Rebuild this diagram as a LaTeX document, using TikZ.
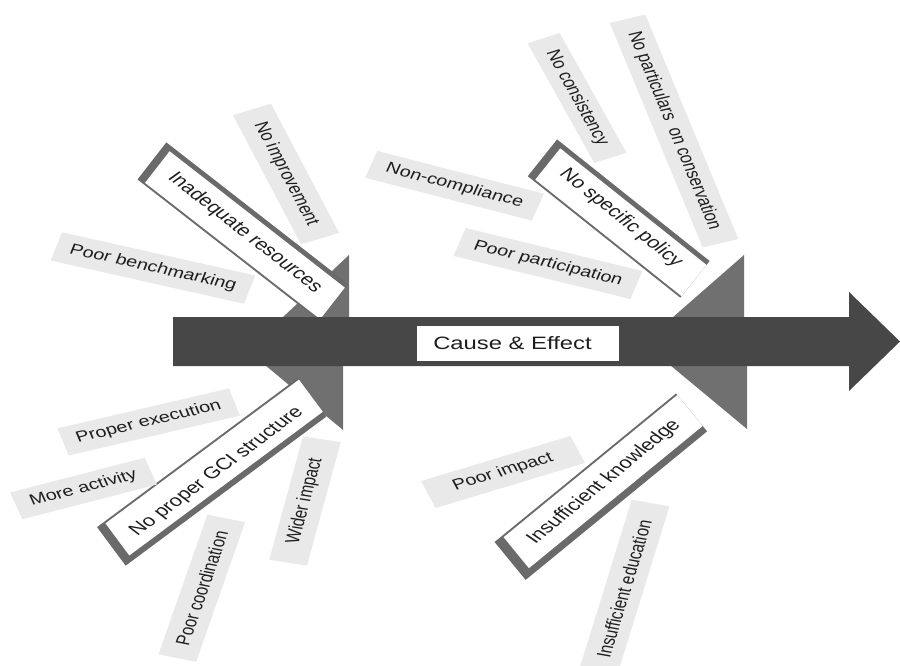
\documentclass[tikz,border=0pt]{standalone}
\usepackage{fontspec}
\setmainfont{Liberation Sans}
\definecolor{spinec}{HTML}{474747}
\definecolor{headc}{HTML}{707070}
\definecolor{bordc}{HTML}{6A6A6A}
\definecolor{lblc}{HTML}{E9E9E9}
\definecolor{txtc}{HTML}{1E1E1E}
\tikzset{
  lbl/.style={fill=lblc, text=txtc, inner sep=0pt, xscale=1.33, font=\fontsize{15}{18}\selectfont},
  brtext/.style={text=txtc, inner sep=0pt, xscale=1.33, font=\fontsize{16.5}{19}\selectfont},
  ttl/.style={fill=white, text=txtc, inner sep=0pt, xscale=1.33, font=\fontsize{17.9}{21}\selectfont},
  headfill/.style={fill=headc},
  spinefill/.style={fill=spinec},
  bordfill/.style={fill=bordc},
  whitefill/.style={fill=white}
}
\begin{document}
\begin{tikzpicture}[x=1pt,y=-1pt]
\useasboundingbox (0,0) rectangle (900,666);
\fill[white] (0,0) rectangle (900,666);

% branch arrow heads
\fill[headfill] (349,255) -- (349,318) -- (282,318) -- cycle;
\fill[headfill] (744,255) -- (744,318) -- (672,318) -- cycle;
\fill[headfill] (265,365) -- (343,365) -- (343,430) -- cycle;
\fill[headfill] (670,365) -- (747,365) -- (747,429) -- cycle;

% branch boxes (top)
\begin{scope}[shift={(241.75,232.75)}, rotate=-37.9]
  \fill[bordfill] (-115,-25) rectangle (115,22);
  \fill[whitefill] (-107,-20) rectangle (115,20);
\end{scope}
\begin{scope}[shift={(617.75,219.75)}, rotate=-38.55]
  \fill[bordfill] (-97.5,-25) rectangle (97.5,22);
  \fill[whitefill] (-89.5,-20) rectangle (97.5,20);
\end{scope}
% branch boxes (bottom)
\begin{scope}[shift={(210.5,470.25)}, rotate=36.6]
  \fill[bordfill] (-125,-22) rectangle (125,26);
  \fill[whitefill] (-116,-20) rectangle (125,20);
\end{scope}
\begin{scope}[shift={(599.25,484.75)}, rotate=39.3]
  \fill[bordfill] (-117.25,-22) rectangle (117.25,27);
  \fill[whitefill] (-107.25,-20) rectangle (117.25,20);
\end{scope}

% spine
\fill[spinefill] (173,317) -- (849,317) -- (849,292) -- (900,341.5) -- (849,391) -- (849,366) -- (173,366) -- cycle;

% branch texts
\node[brtext, rotate=-46.0] (b1) at (245,233) {Inadequate resources};
\node[brtext, rotate=-46.66] (b2) at (621,218) {No specific policy};
\node[brtext, rotate=44.65] (b3) at (217,472) {No proper GCI structure};
\node[brtext, rotate=47.43] (b4) at (604,482) {Insufficient knowledge};

% labels
\node[lbl, rotate=-16.56, minimum width=151.6pt, minimum height=29.5pt] (n1) at (153,268) {Poor benchmarking};
\node[lbl, rotate=-68.38, minimum width=138.9pt, minimum height=30.8pt] (n2) at (286,174) {No improvement};
\node[lbl, rotate=-18.86, minimum width=132.4pt, minimum height=28.3pt] (n3) at (454.5,185.75) {Non-compliance};
\node[lbl, rotate=-17.97, minimum width=139.8pt, minimum height=29.4pt] (n4) at (548,263.5) {Poor participation};
\node[lbl, rotate=-67.24, minimum width=129.7pt, minimum height=26.2pt] (n5) at (577,98) {No consistency};
\node[lbl, rotate=-72.70, minimum width=235.1pt, minimum height=28.0pt] (n6) at (674,131) {No particulars~ on conservation};
\node[lbl, rotate=17.20, minimum width=134.9pt, minimum height=28.4pt] (n7) at (148.75,422) {Proper execution};
\node[lbl, rotate=18.98, minimum width=107pt, minimum height=28.3pt] (n8) at (83.5,488.5) {More activity};
\node[lbl, rotate=75.25, minimum width=144.4pt, minimum height=29.3pt] (n9) at (201.75,588.25) {Poor coordination};
\node[lbl, rotate=78.38, minimum width=126pt, minimum height=29.0pt] (n10) at (305,501) {Wider impact};
\node[lbl, rotate=21.88, minimum width=121pt, minimum height=29.1pt] (n11) at (503,472) {Poor impact};
\node[lbl, rotate=76.90, minimum width=176.5pt, minimum height=29.1pt] (n12) at (624,589) {Insufficient education};

% title
\node[ttl, minimum width=151.9pt, minimum height=35pt] (ce) at (518,343.5) {\hspace*{-8.3pt}Cause \& Effect};
\end{tikzpicture}
\end{document}
